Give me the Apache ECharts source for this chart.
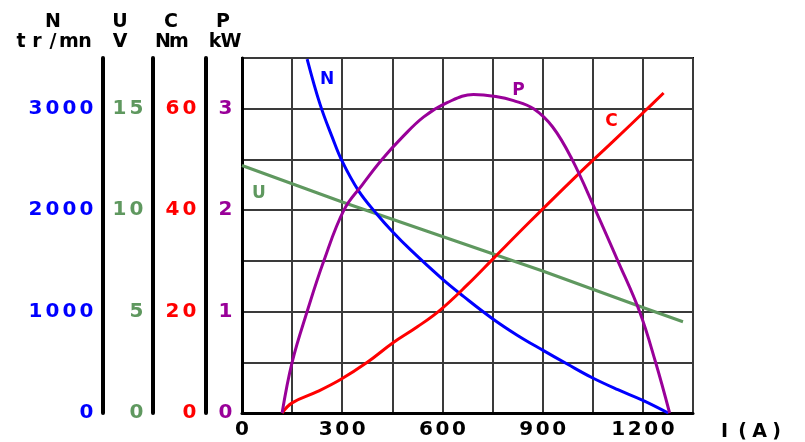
<!DOCTYPE html>
<html>
<head>
    <meta charset="utf-8">
    <title>Moteur - caractéristiques</title>
    <script src="https://cdn.jsdelivr.net/npm/echarts/dist/echarts.min.js"></script>
</head>
<body style="margin:0">
<div id="chart-container" style="width: 805px; height: 442px;"></div>
<script>
    // courbes (I en A)
    var currentN = [195, 234, 270, 300, 349, 404, 450, 504, 600, 663, 750, 825, 900, 975, 1050, 1125, 1200, 1276];
    var speedN = [3490, 3040, 2720, 2480, 2190, 1960, 1790, 1610, 1320, 1150, 930, 765, 620, 480, 345, 230, 125, 0];

    var currentU = [0, 300, 600, 900, 1200, 1320];
    var voltageU = [12.2, 10.4, 8.7, 7.0, 5.2, 4.5];

    var currentC = [120, 150, 225, 295, 375, 451, 525, 595, 675, 753, 863, 1010, 1110, 1210, 1262];
    var torqueC = [0, 2, 4.2, 6.6, 10.0, 13.8, 17.0, 20.4, 25.3, 30.5, 37.8, 47.3, 53.5, 59.8, 63.1];

    var currentP = [120, 150, 195, 245, 305, 360, 419, 480, 544, 614, 693, 760, 813, 873, 930, 988, 1058, 1125, 1190, 1238, 1280];
    var powerP = [0, 0.5, 1.0, 1.5, 2.0, 2.25, 2.5, 2.72, 2.92, 3.06, 3.14, 3.12, 3.08, 3.0, 2.82, 2.5, 2.0, 1.5, 1.0, 0.5, 0];

    // graduations affichées
    var ticksI = [0, 300, 600, 900, 1200];
    var ticksN = [0, 1000, 2000, 3000];
    var ticksU = [0, 5, 10, 15];
    var ticksC = [0, 20, 40, 60];
    var ticksP = [0, 1, 2, 3];

    var blue = '#0000ff', green = '#5f985f', red = '#ff0000', purple = '#990099';

    // police "pixel" élargie : un caractère par case
    function cells(s, key) {
        return String(s).split('').map(function (c) {
            return c === ' ' ? '{sp| }' : '{' + key + '|' + c + '}';
        }).join('');
    }
    function cellStyle(color, w, size) {
        return {
            width: w, align: 'center', color: color,
            fontFamily: 'DejaVu Sans', fontWeight: 'bold', fontSize: size, lineHeight: 20
        };
    }
    var space = { width: 1, fontSize: 10 };
    function pairs(xs, ys) {
        return xs.map(function (x, i) { return [x, ys[i]]; });
    }
    function withLabel(data, idx, text, color, offset) {
        data[idx] = {
            value: data[idx],
            label: {
                show: true, formatter: text, position: 'inside', offset: offset,
                color: color, fontFamily: 'DejaVu Sans', fontWeight: 'bold', fontSize: 17
            }
        };
        return data;
    }

    function yAxis(max, interval, offset, ticks, color, lineWidth, grid) {
        return {
            type: 'value', position: 'left', min: 0, max: max, interval: interval, offset: offset,
            axisLine: { show: true, onZero: false, lineStyle: { color: '#000', width: lineWidth } },
            axisTick: { show: false },
            axisLabel: {
                margin: 8,
                formatter: function (v) { return ticks.indexOf(v) >= 0 ? cells(v, 'd') : ''; },
                rich: { d: cellStyle(color, 17, 20) }
            },
            splitLine: { show: grid, lineStyle: { color: '#3a3a3a', width: 2 } }
        };
    }

    function axisTitle(x, top, unit, color) {
        return {
            type: 'text', x: x, y: 12,
            style: {
                text: cells(top, 't') + '\n' + cells(unit, 't'),
                align: 'center',
                rich: { t: cellStyle(color, 16, 19), sp: space }
            }
        };
    }

    var option = {
        animation: false,
        grid: { left: 242, right: 112, top: 58, bottom: 29, show: true, borderColor: '#000', borderWidth: 2 },
        graphic: [
            axisTitle(53, 'N', 'tr/mn', blue),
            axisTitle(120, 'U', 'V', green),
            axisTitle(171, 'C', 'Nm', red),
            axisTitle(223, 'P', 'kW', purple)
        ],
        xAxis: {
            type: 'value', min: 0, max: 1350, interval: 150,
            name: cells('I (A)', 'n'), nameLocation: 'end', nameGap: 23,
            nameTextStyle: { verticalAlign: 'top', padding: [9, 0, 0, 0], rich: { n: cellStyle('#000', 17, 19), sp: space } },
            axisLine: { lineStyle: { color: '#000', width: 3 } },
            axisTick: { show: false },
            axisLabel: {
                margin: 7,
                formatter: function (v) { return ticksI.indexOf(v) >= 0 ? cells(v, 'd') : ''; },
                rich: { d: cellStyle('#000', 16.5, 20) }
            },
            splitLine: { show: true, lineStyle: { color: '#3a3a3a', width: 2 } }
        },
        yAxis: [
            yAxis(3500, 500, 139, ticksN, blue, 4, false),
            yAxis(17.5, 2.5, 89, ticksU, green, 4, false),
            yAxis(70, 10, 36, ticksC, red, 4, false),
            yAxis(3.5, 0.5, 0, ticksP, purple, 3, true)
        ],
        series: [
            {
                name: 'U', type: 'line', yAxisIndex: 1, symbol: 'circle', symbolSize: 0,
                lineStyle: { color: green, width: 3 }, itemStyle: { color: green },
                data: withLabel(pairs(currentU, voltageU), 0, 'U', green, [17, 28])
            },
            {
                name: 'N', type: 'line', yAxisIndex: 0, symbol: 'circle', symbolSize: 0, smooth: 0.4,
                lineStyle: { color: blue, width: 3 }, itemStyle: { color: blue },
                data: withLabel(pairs(currentN, speedN), 0, 'N', blue, [20, 21])
            },
            {
                name: 'C', type: 'line', yAxisIndex: 2, symbol: 'circle', symbolSize: 0, smooth: 0.4,
                lineStyle: { color: red, width: 3 }, itemStyle: { color: red },
                data: withLabel(pairs(currentC, torqueC), currentC.length - 1, 'C', red, [-52, 29])
            },
            {
                name: 'P', type: 'line', yAxisIndex: 3, symbol: 'circle', symbolSize: 0, smooth: 0.4,
                lineStyle: { color: purple, width: 3 }, itemStyle: { color: purple },
                data: withLabel(pairs(currentP, powerP), 10, 'P', purple, [45, -4])
            }
        ]
    };

    var chart = echarts.init(document.getElementById('chart-container'));
    chart.setOption(option);
</script>
</body>
</html>
